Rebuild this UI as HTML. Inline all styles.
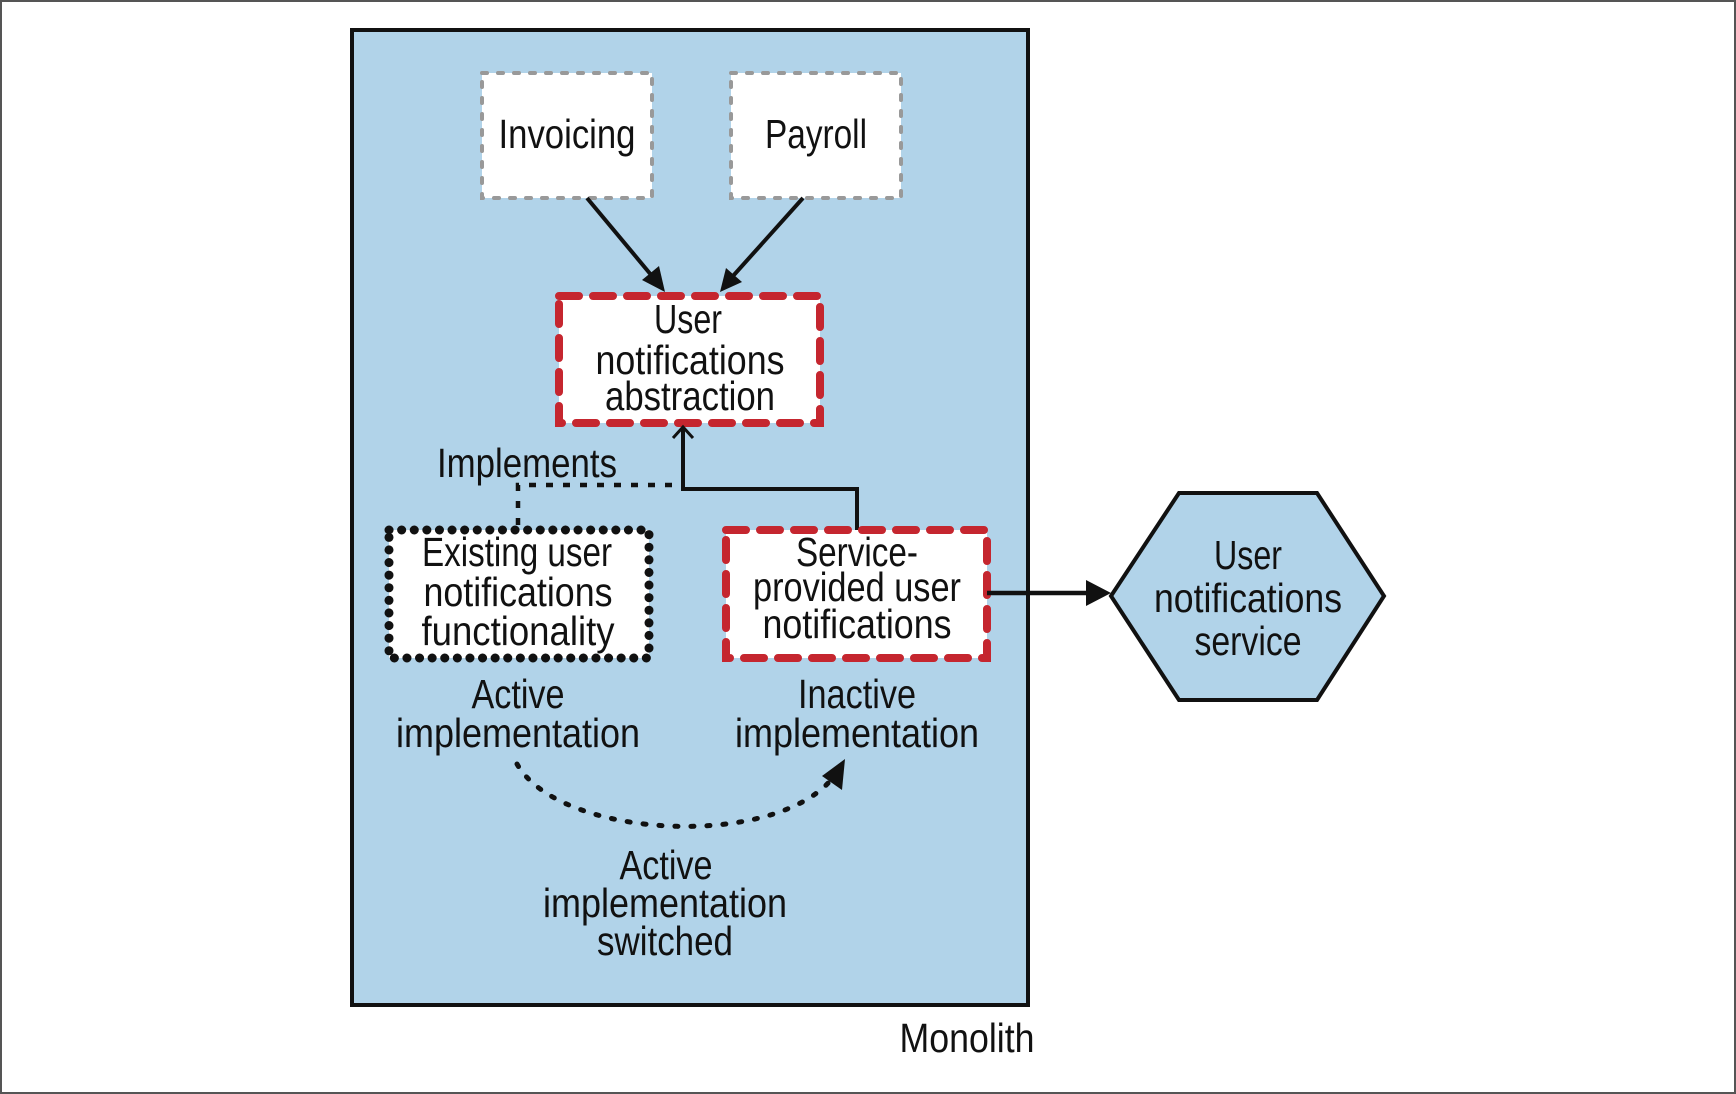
<!DOCTYPE html>
<html><head><meta charset="utf-8"><style>
html,body{margin:0;padding:0;background:#fff}
svg{display:block}
text{font-family:"Liberation Sans",sans-serif;font-size:41px;fill:#111;text-anchor:middle}
</style></head><body>
<svg width="1736" height="1094" viewBox="0 0 1736 1094" xmlns="http://www.w3.org/2000/svg">
<rect x="1" y="1" width="1734" height="1092" fill="#fff" stroke="#555" stroke-width="2"/>
<rect x="352" y="30" width="676" height="975" fill="#b1d3e9" stroke="#111" stroke-width="4"/>

<rect x="482" y="73" width="170" height="125" fill="#fff" stroke="#999" stroke-width="4" stroke-dasharray="5,11" stroke-linecap="round"/>
<rect x="731" y="73" width="170" height="125" fill="#fff" stroke="#999" stroke-width="4" stroke-dasharray="5,11" stroke-linecap="round"/>
<text x="567" y="148" textLength="137" lengthAdjust="spacingAndGlyphs">Invoicing</text>
<text x="816" y="148" textLength="102" lengthAdjust="spacingAndGlyphs">Payroll</text>

<line x1="587" y1="198" x2="652" y2="276" stroke="#111" stroke-width="4"/>
<polygon points="665,292 642,280 659,266" fill="#111"/>
<line x1="803" y1="198" x2="733" y2="276" stroke="#111" stroke-width="4"/>
<polygon points="720,292 726,268 742,282" fill="#111"/>

<rect x="559" y="296" width="261" height="127" fill="#fff" stroke="#c5262f" stroke-width="8" stroke-dasharray="20,14" stroke-linecap="round"/>
<text x="688" y="333" textLength="68" lengthAdjust="spacingAndGlyphs">User</text>
<text x="690" y="374" textLength="189" lengthAdjust="spacingAndGlyphs">notifications</text>
<text x="690" y="410" textLength="170" lengthAdjust="spacingAndGlyphs">abstraction</text>

<text x="527" y="477" textLength="180" lengthAdjust="spacingAndGlyphs">Implements</text>
<polyline points="672,485 518,485 518,530" fill="none" stroke="#111" stroke-width="4.5" stroke-dasharray="7,10"/>

<polyline points="857,530 857,489 683,489 683,428" fill="none" stroke="#111" stroke-width="4"/>
<polyline points="673,438 683,427 693,438" fill="none" stroke="#111" stroke-width="3"/>

<rect x="389" y="530" width="260" height="128" fill="#fff" stroke="#111" stroke-width="9" stroke-dasharray="0.1,12.5" stroke-linecap="round"/>
<text x="517" y="566" textLength="190" lengthAdjust="spacingAndGlyphs">Existing user</text>
<text x="518" y="606" textLength="189" lengthAdjust="spacingAndGlyphs">notifications</text>
<text x="518" y="645" textLength="193" lengthAdjust="spacingAndGlyphs">functionality</text>

<rect x="726" y="530" width="261" height="128" fill="#fff" stroke="#c5262f" stroke-width="8" stroke-dasharray="20,14" stroke-linecap="round"/>
<text x="857" y="566" textLength="122" lengthAdjust="spacingAndGlyphs">Service-</text>
<text x="857" y="601" textLength="208" lengthAdjust="spacingAndGlyphs">provided user</text>
<text x="857" y="638" textLength="189" lengthAdjust="spacingAndGlyphs">notifications</text>

<line x1="987" y1="593" x2="1090" y2="593" stroke="#111" stroke-width="4.5"/>
<polygon points="1111,593 1086,580 1086,606" fill="#111"/>

<polygon points="1111,596 1179,493 1317,493 1384,596 1317,700 1179,700" fill="#b1d3e9" stroke="#111" stroke-width="4"/>
<text x="1248" y="569" textLength="68" lengthAdjust="spacingAndGlyphs">User</text>
<text x="1248" y="612" textLength="188" lengthAdjust="spacingAndGlyphs">notifications</text>
<text x="1248" y="655" textLength="107" lengthAdjust="spacingAndGlyphs">service</text>

<text x="518" y="708" textLength="93" lengthAdjust="spacingAndGlyphs">Active</text>
<text x="518" y="747" textLength="244" lengthAdjust="spacingAndGlyphs">implementation</text>
<text x="857" y="708" textLength="118" lengthAdjust="spacingAndGlyphs">Inactive</text>
<text x="857" y="747" textLength="244" lengthAdjust="spacingAndGlyphs">implementation</text>

<path d="M517,764 C560,840 780,850 835,775" fill="none" stroke="#111" stroke-width="5" stroke-dasharray="3,13" stroke-linecap="round"/>
<polygon points="845,759 822,776 842,790" fill="#111"/>

<text x="666" y="879" textLength="93" lengthAdjust="spacingAndGlyphs">Active</text>
<text x="665" y="917" textLength="244" lengthAdjust="spacingAndGlyphs">implementation</text>
<text x="665" y="955" textLength="136" lengthAdjust="spacingAndGlyphs">switched</text>

<text x="967" y="1052" textLength="135" lengthAdjust="spacingAndGlyphs">Monolith</text>
</svg>
</body></html>
